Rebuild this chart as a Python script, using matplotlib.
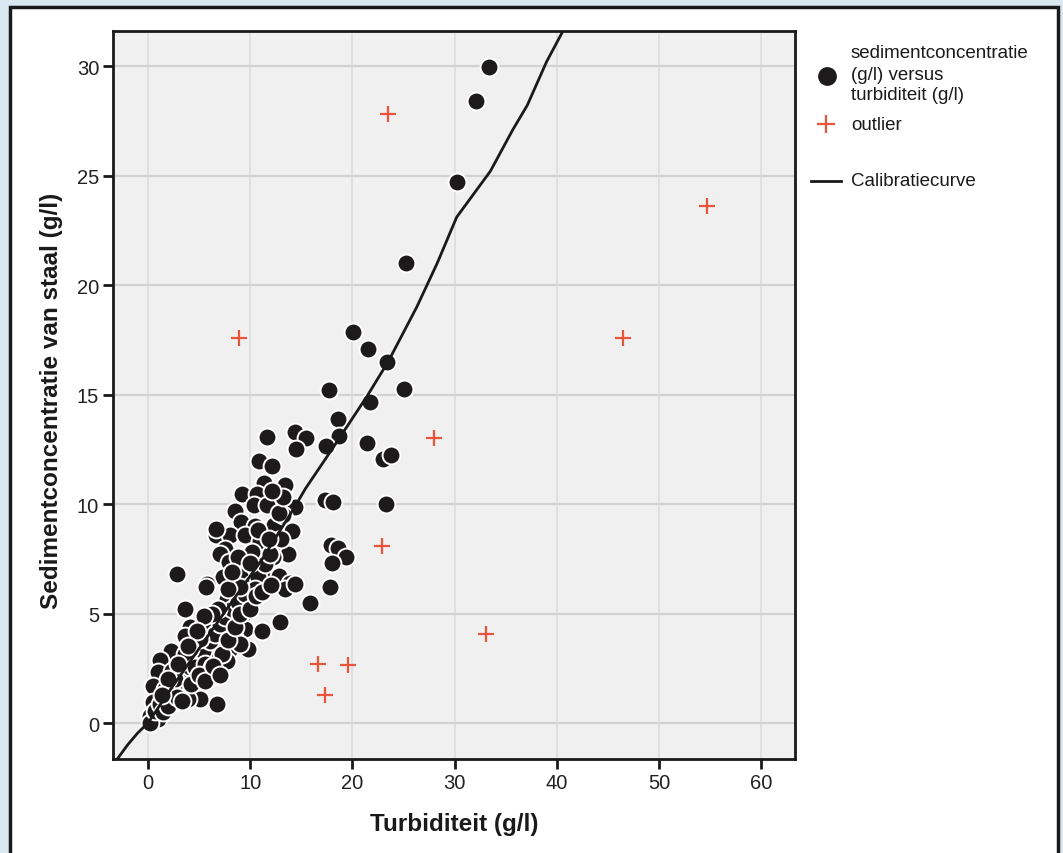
import matplotlib
matplotlib.use("Agg")
import matplotlib.pyplot as plt
from matplotlib.lines import Line2D
from matplotlib.patches import Rectangle

plt.rcParams['font.family'] = ['Liberation Sans', 'DejaVu Sans']

# --- Data ---
turb = [33.4, 32.1, 30.2, 25.2, 20.1, 21.5, 23.4, 17.7, 25.0, 21.7, 18.6, 18.7, 21.4, 17.4,
        23.0, 23.8, 23.3, 17.3, 18.1, 17.9, 18.6, 19.4, 18.0, 17.8, 15.9,
        11.6, 14.4, 15.5, 14.5, 10.9, 12.1, 11.4, 13.4, 9.2, 10.7, 12.6, 10.4, 11.6, 8.5, 14.4,
        9.1, 10.5, 12.3, 14.1, 6.65, 8.0, 9.5, 7.5, 7.0, 12.6, 13.7, 7.9, 9.5, 7.3, 9.0, 11.7,
        12.8, 5.8, 13.9, 6.65, 12.2, 13.0, 11.0, 10.2,
        2.8, 5.7, 13.4, 14.4, 7.7, 9.8, 3.6, 4.1, 5.3, 6.1, 7.3, 9.2, 9.5, 11.2, 12.9, 3.6,
        5.8, 6.75, 8.0, 9.8, 2.3, 4.6, 1.2, 3.4, 6.1, 7.7, 1.0, 2.4, 4.6, 6.1, 1.5, 0.5, 3.1,
        4.8, 1.7, 0.5, 2.6, 6.75, 1.0, 0.2, 3.6, 0.2,
        0.68, 1.17, 1.96, 2.35, 2.94, 3.62, 4.11, 4.89, 5.38, 6.07, 6.56, 7.05, 7.53, 8.22,
        8.81, 9.49, 10.18, 10.76, 11.45, 11.94, 10.47, 9.0, 7.83, 6.85, 5.09, 4.11, 3.62, 2.64,
        1.66, 4.6, 5.58, 6.26, 7.24, 8.51, 9.0, 5.09, 3.91,
        1.5, 2.0, 2.8, 3.3, 4.2, 5.0, 5.6, 6.4, 7.0, 7.8, 8.5, 9.0, 10.0, 10.6, 11.2, 12.0,
        6.3, 5.5, 4.8, 3.9, 2.9, 2.0, 1.4, 8.8, 8.2, 10.0, 10.8, 11.8, 13.2, 12.8, 13.2, 12.1]
sed = [29.95, 28.4, 24.7, 21.0, 17.85, 17.1, 16.5, 15.2, 15.25, 14.65, 13.9, 13.1, 12.8, 12.65,
       12.05, 12.25, 10.0, 10.2, 10.1, 8.15, 8.0, 7.6, 7.3, 6.2, 5.5,
       13.06, 13.3, 13.0, 12.5, 11.96, 11.75, 10.96, 10.87, 10.46, 10.46, 10.2, 9.95, 9.95, 9.7,
       9.86, 9.2, 9.0, 9.04, 8.77, 8.6, 8.6, 8.6, 7.95, 7.7, 8.1, 7.7, 7.35, 7.1, 6.65, 6.7,
       6.8, 6.7, 6.35, 6.4, 8.85, 7.6, 8.4, 8.3, 7.8,
       6.8, 6.2, 6.1, 6.35, 5.66, 5.66, 5.2, 4.4, 4.4, 4.43, 4.5, 4.9, 4.3, 4.2, 4.6, 3.97,
       3.6, 3.47, 3.38, 3.38, 3.3, 3.24, 2.9, 2.8, 3.0, 2.83, 2.33, 2.37, 2.1, 2.1, 1.64, 1.7,
       1.64, 1.4, 1.1, 0.96, 0.96, 0.87, 0.18, 0.32, 1.46, 0.0,
       0.55, 0.87, 1.23, 1.55, 1.92, 2.24, 2.56, 2.92, 3.29, 3.74, 4.06, 4.52, 4.84, 5.21,
       5.53, 5.89, 6.35, 6.67, 7.26, 7.72, 6.12, 6.21, 6.12, 5.21, 3.84, 3.38, 3.15, 2.01,
       1.55, 2.56, 2.69, 2.56, 3.15, 3.84, 3.61, 1.10, 1.10,
       0.5, 0.8, 1.2, 1.0, 1.8, 2.2, 1.9, 2.6, 2.2, 3.8, 4.4, 5.0, 5.2, 5.8, 6.0, 6.3,
       5.0, 4.9, 4.2, 3.5, 2.7, 2.0, 1.3, 7.6, 6.9, 7.3, 8.8, 8.4, 9.5, 9.6, 10.3, 10.6]

out_turb = [23.5, 8.9, 54.7, 46.5, 28.0, 22.9, 33.1, 16.6, 19.6, 17.3]
out_sed = [27.8, 17.6, 23.6, 17.6, 13.0, 8.1, 4.06, 2.7, 2.65, 1.3]

curve_x = [-3.0, -2.0, -1.0, 0, 2, 5, 8, 11.2, 14.4, 15.4, 18, 21.4, 23.5, 26.3, 28.3,
           30.2, 33.5, 35.7, 37.1, 39.0, 40.6]
curve_y = [-1.64, -1.0, -0.45, 0, 1.4, 3.4, 5.4, 7.5, 9.9, 10.7, 12.5, 14.9, 16.5, 19.0,
           21.0, 23.1, 25.2, 27.1, 28.2, 30.2, 31.6]

xticks = [0, 10, 20, 30, 40, 50, 60]
yticks = [0, 5, 10, 15, 20, 25, 30]

W, H = 1063, 854
fig = plt.figure(figsize=(W / 100, H / 100), dpi=100)
fig.patch.set_facecolor('#d9e7f1')
fig.add_artist(Rectangle((10 / W, -0.05), (1058 - 10) / W, 1.05 - 7.5 / H,
                         transform=fig.transFigure, facecolor='white',
                         edgecolor='#1a1a1a', lw=2.5, zorder=0))

ax = fig.add_axes([113 / W, 1 - 760 / H, (795 - 113) / W, (760 - 32) / H])
ax.set_facecolor('#f0f0f0')
ax.set_xlim(-3.42, 63.3)
ax.set_ylim(-1.64, 31.6)
ax.set_xticks(xticks)
ax.set_yticks(yticks)
for v in yticks:
    ax.axhline(v, color='#d2d2d2', lw=1.6, zorder=0.5)
for v in xticks:
    ax.axvline(v, color='#e0e0e0', lw=1.4, zorder=0.4)

ax.scatter(turb, sed, s=165, c='#1c1a1a', edgecolors='white', linewidths=1.4, zorder=2)
ax.plot(out_turb, out_sed, linestyle='none', marker='+', markersize=11,
        markeredgewidth=1.6, color='#e8553a', zorder=3)
ax.plot(curve_x, curve_y, color='#1a1a1a', lw=2.0, zorder=4, solid_capstyle='round')

for s in ax.spines.values():
    s.set_linewidth(2.0)
    s.set_color('#1a1a1a')
ax.tick_params(axis='both', direction='out', length=7, width=2, colors='#1a1a1a',
               labelsize=14.5, labelcolor='#222222', pad=3)
ax.tick_params(top=False, right=False)

ax.set_xlabel('Turbiditeit (g/l)', fontsize=17.5, fontweight='bold', color='#1a1a1a')
ax.xaxis.set_label_coords(0.5, -(813 - 760) / (760 - 32))
fig.text(52 / W, 1 - 401 / H, 'Sedimentconcentratie van staal (g/l)', rotation=90,
         fontsize=17.5, fontweight='bold', color='#1a1a1a', ha='center', va='center')

# --- legend (manual) ---
fig.add_artist(Line2D([827 / W], [1 - 77 / H], transform=fig.transFigure, marker='o',
                      markersize=12.5, color='#1c1a1a', linestyle='none'))
fig.add_artist(Line2D([826 / W], [1 - 125 / H], transform=fig.transFigure, marker='+',
                      markersize=13, markeredgewidth=1.6, color='#e8553a', linestyle='none'))
fig.add_artist(Line2D([811 / W, 841 / W], [1 - 182 / H, 1 - 182 / H],
                      transform=fig.transFigure, color='#1a1a1a', lw=2.0))
lx = 851 / W
for txt, py in [('sedimentconcentratie', 54), ('(g/l) versus', 75),
                ('turbiditeit (g/l)', 96), ('outlier', 125), ('Calibratiecurve', 181)]:
    fig.text(lx, 1 - py / H, txt, fontsize=13.5, color='#1a1a1a', ha='left', va='center')

fig.savefig('out.png', dpi=100, facecolor=fig.get_facecolor())
